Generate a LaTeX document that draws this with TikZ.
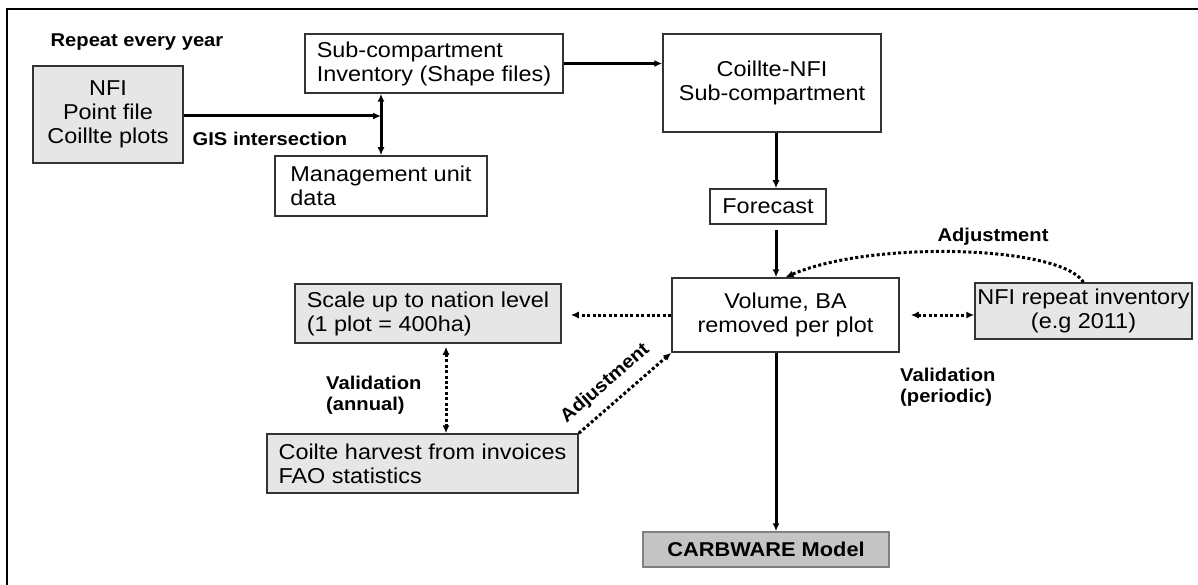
\documentclass[tikz,border=0pt]{standalone}
\usepackage{fontspec}
\setmainfont{Liberation Sans}[FakeStretch=1.09]
\usepackage{xcolor}
\usepackage{tikz}
\usetikzlibrary{positioning,shapes,arrows.meta,calc}

\definecolor{boxgray}{HTML}{E6E6E6}
\definecolor{modelgray}{HTML}{C4C4C4}

\begin{document}
\begin{tikzpicture}[x=1pt,y=-1pt,
    >={Latex[length=8pt,width=7pt]},
    box/.style={draw=black!80, line width=1.5pt, inner sep=0pt, align=center, font=\fontsize{21.5}{24}\selectfont},
    gbox/.style={box, fill=boxgray},
    lbl/.style={font=\fontsize{18.5}{21}\selectfont\bfseries, align=left, inner sep=0pt},
    arr/.style={line width=3pt},
    dotline/.style={line width=3pt, dash pattern=on 3pt off 2.4pt}]
    \useasboundingbox (0,0) rectangle (1198,585);
    \draw[line width=2.4pt] (7,585) -- (7,9) -- (1198,9);

    % boxes
    \node[gbox, minimum width=150pt, minimum height=97pt] (nfi) at (108,114.5) {NFI\\Point file\\Coillte plots};
    \node[box, align=left, minimum width=258pt, minimum height=59pt] (sub) at (434,63.5) {Sub-compartment\\Inventory (Shape files)};
    \node[box, minimum width=218pt, minimum height=98pt] (cnfi) at (772,83) {Coillte-NFI\\Sub-compartment};
    \node[box, align=left, minimum width=212pt, minimum height=60pt] (mgmt) at (381,186) {Management unit\\data};
    \node[box, minimum width=116pt, minimum height=35pt] (fore) at (768,206.5) {Forecast};
    \node[box, minimum width=227pt, minimum height=74pt] (vol) at (785.5,315) {Volume, BA\\removed per plot};
    \node[gbox, minimum width=217pt, minimum height=56pt] (nrep) at (1083.5,311) {NFI repeat inventory\\(e.g 2011)};
    \node[gbox, align=left, minimum width=266pt, minimum height=59pt] (scale) at (428,313.5) {Scale up to nation level\\(1 plot = 400ha)};
    \node[gbox, align=left, minimum width=311pt, minimum height=59pt] (harv) at (422.5,463.5) {Coilte harvest from invoices\\FAO statistics};
    \node[box, draw=black!50, fill=modelgray, font=\fontsize{20}{24}\selectfont\bfseries, minimum width=246pt, minimum height=35pt] (carb) at (766,549.5) {CARBWARE Model};

    % labels
    \node[lbl] (rep) at (137,42) {Repeat every year};
    \node[lbl] (gisl) at (270,139) {GIS intersection};
    \node[lbl] (adjt) at (993,237) {Adjustment};
    \node[lbl, anchor=west] (vala) at (326,395) {Validation\\(annual)};
    \node[lbl, anchor=west] (valp) at (900,387) {Validation\\(periodic)};

    \coordinate (gis) at (381,116);
    \coordinate (col) at (776,0);

    % solid arrows
    \draw[->, arr] (nfi.east |- gis) -- (gis);
    \draw[<->, arr] (sub.south -| gis) -- (mgmt.north);
    \draw[->, arr] (sub.east) -- (sub.east -| cnfi.west);
    \draw[->, arr] (cnfi.south -| col) -- (fore.north -| col);
    \draw[->, arr, shorten <=5pt] (fore.south -| col) -- (vol.north -| col);
    \draw[->, arr] (vol.south -| col) -- (carb.north -| col);

    % dotted arrows
    \draw[->, dotline, shorten >=9pt] (vol.west) -- (vol.west -| scale.east);
    \draw[<->, dotline, shorten <=11pt] (vol.east) -- (vol.east -| nrep.west);
    \draw[<->, dotline, shorten <=3pt] ([xshift=18pt]scale.south) -- ([xshift=18pt]scale.south |- harv.north);
    \draw[->, dotline] (harv.north east) -- node[lbl, sloped, above=10pt, pos=0.43] (adjd) {Adjustment} (vol.south west);
    \draw[->, dotline] (nrep.north) .. controls ($(nrep.north)+(-23,-37)$) and ($(vol.north)+(85,-37)$) .. (vol.north);
\end{tikzpicture}
\end{document}
